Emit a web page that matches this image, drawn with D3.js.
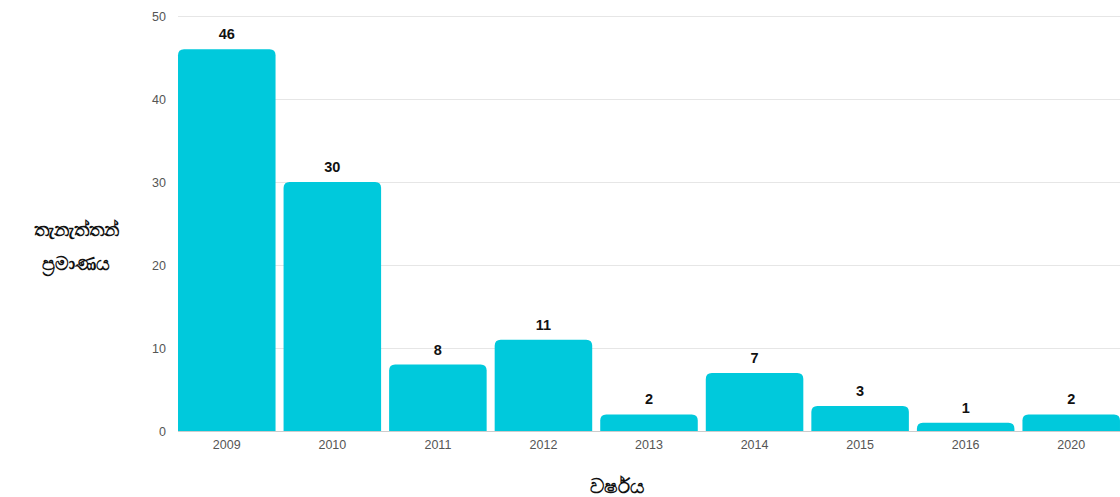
<!DOCTYPE html>
<html>
<head>
<meta charset="utf-8">
<script src="https://cdn.jsdelivr.net/npm/d3@7"></script>
<style>
  body { margin: 0; background: #fff; }
  .chart { width: 1120px; height: 497px; }
  text { font-family: "Liberation Sans", Arial, sans-serif; }
</style>
</head>
<body>
<div class="chart"></div>
<script>
// 데이터
const years = ['2009', '2010', '2011', '2012', '2013', '2014', '2015', '2016', '2020'];
const counts = [46, 30, 8, 11, 2, 7, 3, 1, 2];
const yTicks = [0, 10, 20, 30, 40, 50];
const yTitle = ['තැනැත්තන්', 'ප්‍රමාණය'];
const xTitle = 'වර්ෂය';

const OuterWidth = 1120, OuterHeight = 497;
const Margin = {top: 16, bottom: 66, left: 178, right: 0};
const barColor = '#00c9dc';

const svg = d3.select('.chart')
  .append('svg')
  .attr('width', OuterWidth)
  .attr('height', OuterHeight);

// 축 스케일
const x = d3.scaleBand()
  .domain(years)
  .range([Margin.left - 4, OuterWidth + 4])
  .paddingInner(0.076)
  .paddingOuter(0.038);

const y = d3.scaleLinear()
  .domain([0, 50])
  .range([OuterHeight - Margin.bottom, Margin.top]);

// 그리드 + y축 눈금
const yAxisG = svg.append('g')
  .attr('transform', `translate(${Margin.left},0)`)
  .call(d3.axisLeft(y).tickValues(yTicks).tickSize(0).tickPadding(12))
  .call(g => g.select('.domain').remove())
  .call(g => g.selectAll('.tick text')
    .attr('fill', '#555')
    .style('font-size', '12.5px'));

yAxisG.selectAll('.tick').append('line')
  .attr('x2', OuterWidth - Margin.left)
  .attr('stroke', d => d === 0 ? '#ccc' : '#e6e6e6')
  .attr('stroke-width', 1);

// 막대 (윗쪽 모서리만 둥글게)
const r = 6;
svg.append('g')
  .selectAll('path')
  .data(counts)
  .join('path')
  .attr('fill', barColor)
  .attr('d', (d, i) => {
    const x0 = x(years[i]), w = x.bandwidth();
    const y0 = y(d), y1 = y(0);
    const rr = Math.min(r, (y1 - y0));
    return `M${x0},${y1}V${y0 + rr}Q${x0},${y0} ${x0 + rr},${y0}` +
      `H${x0 + w - rr}Q${x0 + w},${y0} ${x0 + w},${y0 + rr}V${y1}Z`;
  });

// 막대 위 값
svg.append('g')
  .selectAll('text')
  .data(counts)
  .join('text')
  .attr('x', (d, i) => x(years[i]) + x.bandwidth() / 2)
  .attr('y', d => y(d) - 10)
  .attr('text-anchor', 'middle')
  .style('font-size', '14.5px')
  .style('font-weight', 'bold')
  .attr('fill', '#111')
  .text(d => d);

// x축 눈금
svg.append('g')
  .attr('transform', `translate(0,${OuterHeight - Margin.bottom})`)
  .call(d3.axisBottom(x).tickSize(0).tickPadding(9))
  .call(g => g.select('.domain').remove())
  .call(g => g.selectAll('.tick text')
    .attr('fill', '#555')
    .style('font-size', '12.5px'));

// 축 제목
svg.append('g')
  .selectAll('text')
  .data(yTitle)
  .join('text')
  .attr('x', 76)
  .attr('y', (d, i) => 236 + i * 34)
  .attr('text-anchor', 'middle')
  .style('font-size', '19px')
  .style('font-weight', 'bold')
  .attr('fill', '#111')
  .text(d => d);

svg.append('text')
  .attr('x', 617)
  .attr('y', 493)
  .attr('text-anchor', 'middle')
  .style('font-size', '20px')
  .style('font-weight', 'bold')
  .attr('fill', '#111')
  .text(xTitle);
</script>
</body>
</html>
